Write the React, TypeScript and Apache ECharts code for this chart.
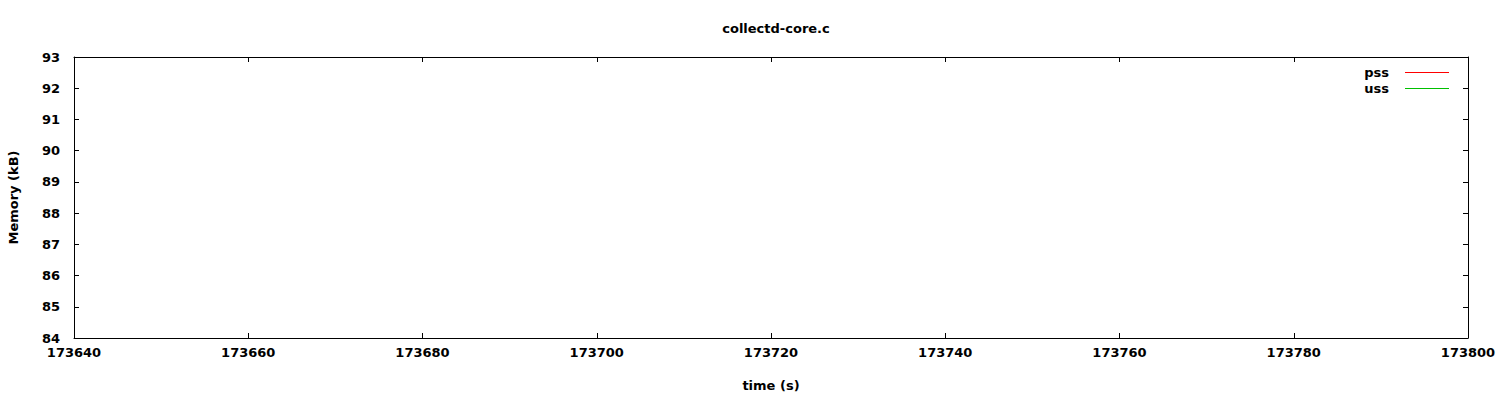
import React, { useEffect, useRef } from "react";
import * as echarts from "echarts";

const titleText = "collectd-core.c";
const xName = "time (s)";
const yName = "Memory (kB)";
const seriesNames = ["pss", "uss"];
const seriesColors = ["#ff0000", "#00c000"];
const pss: [number, number][] = [];
const uss: [number, number][] = [];
const xMin = 173640;
const xMax = 173800;
const xStep = 20;
const yMin = 84;
const yMax = 93;
const yStep = 1;

const FONT = "DejaVu Sans";

export default function App() {
  const ref = useRef<HTMLDivElement>(null);
  useEffect(() => {
    if (!ref.current) return;
    const chart = echarts.init(ref.current, undefined, { renderer: "svg" });
    const axisLine = { show: true, lineStyle: { color: "#000", width: 1 } };
    const tick = { show: true, inside: true, length: 5, lineStyle: { color: "#000" } };
    const label = { color: "#000", fontFamily: FONT, fontSize: 13, fontWeight: "bold" as const };
    chart.setOption({
      animation: false,
      backgroundColor: "#fff",
      title: {
        text: titleText,
        left: 771,
        top: 17,
        textAlign: "center",
        textStyle: { color: "#000", fontFamily: FONT, fontSize: 13, fontWeight: "bold" },
      },
      legend: {
        orient: "vertical",
        right: 46,
        top: 61,
        align: "right",
        itemWidth: 44,
        itemHeight: 1,
        itemGap: 3,
        icon: "rect",
        textStyle: { ...label, padding: [0, 11, 0, 0] },
        data: seriesNames,
      },
      grid: { left: 74, right: 32, top: 57, bottom: 62, containLabel: false, outerBoundsMode: "none" },
      xAxis: [
        {
          type: "value",
          min: xMin,
          max: xMax,
          interval: xStep,
          name: xName,
          nameLocation: "middle",
          nameGap: 41,
          nameTextStyle: label,
          axisLine,
          axisTick: tick,
          axisLabel: { ...label, margin: 8, formatter: (v: number) => String(v) },
          splitLine: { show: false },
        },
        {
          type: "value",
          position: "top",
          min: xMin,
          max: xMax,
          interval: xStep,
          axisLine,
          axisTick: tick,
          axisLabel: { show: false },
          splitLine: { show: false },
        },
      ],
      yAxis: [
        {
          type: "value",
          min: yMin,
          max: yMax,
          interval: yStep,
          name: yName,
          nameLocation: "middle",
          nameGap: 54,
          nameTextStyle: label,
          axisLine,
          axisTick: tick,
          axisLabel: { ...label, margin: 14 },
          splitLine: { show: false },
        },
        {
          type: "value",
          position: "right",
          min: yMin,
          max: yMax,
          interval: yStep,
          axisLine,
          axisTick: tick,
          axisLabel: { show: false },
          splitLine: { show: false },
        },
      ],
      series: [
        {
          name: seriesNames[0],
          type: "line",
          data: pss,
          showSymbol: false,
          color: seriesColors[0],
          lineStyle: { color: seriesColors[0], width: 1 },
        },
        {
          name: seriesNames[1],
          type: "line",
          data: uss,
          showSymbol: false,
          color: seriesColors[1],
          lineStyle: { color: seriesColors[1], width: 1 },
        },
      ],
    });
    return () => chart.dispose();
  }, []);
  return (
    <div
      ref={ref}
      style={{ position: "fixed", left: 0, top: 0, width: 1500, height: 400 }}
    />
  );
}
